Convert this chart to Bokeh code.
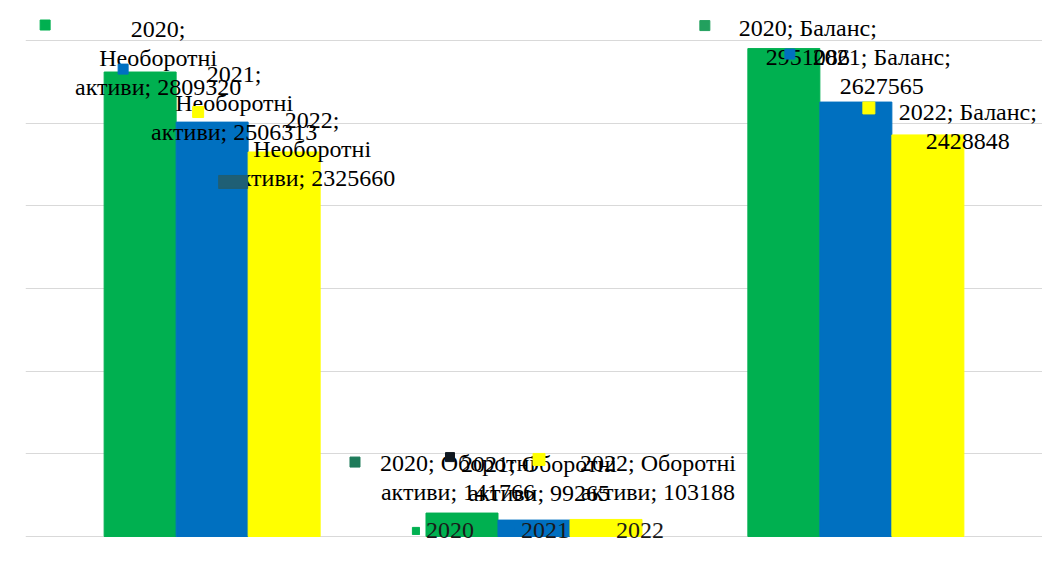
from bokeh.plotting import figure
from bokeh.models import ColumnDataSource, FactorRange, FixedTicker, Range1d, Legend, LegendItem
from bokeh.core.properties import value
from bokeh.embed import file_html
from bokeh.resources import INLINE

# ---- data ----
categories = ["Необоротні активи", "Оборотні активи", "Баланс"]
years = ["2020", "2021", "2022"]
v2020 = [2809320, 141766, 2951086]
v2021 = [2506313, 99265, 2627565]
v2022 = [2325660, 103188, 2428848]
series = {"2020": v2020, "2021": v2021, "2022": v2022}
colors = {"2020": "#00B050", "2021": "#0070C0", "2022": "#FFFF00"}
grid_ticks = [0, 500000, 1000000, 1500000, 2000000, 2500000, 3000000]

# ---- layout constants ----
W, H_FRAME, TOP = 1042, 548, 8
Y0, Y1 = -120968, 3193548
UPP = (Y1 - Y0) / H_FRAME     # data units per pixel
XPX = 72.0                    # pixels per factor unit
FONT_NAME = "'Liberation Serif', 'Times New Roman', Times, serif"
FONT = value(FONT_NAME)

factors = [(c, y) for c in categories for y in years]
p = figure(x_range=FactorRange(*factors, group_padding=1.47, range_padding=1.092,
                               range_padding_units="absolute"),
           y_range=Range1d(Y0, Y1), width=W, height=H_FRAME + TOP,
           output_backend="svg", toolbar_location=None,
           min_border_left=25, min_border_right=0, min_border_top=TOP, min_border_bottom=0)
p.outline_line_color = None
p.xaxis.visible = False
p.yaxis.visible = False
p.xgrid.grid_line_color = None
p.ygrid.ticker = FixedTicker(ticks=grid_ticks)
p.ygrid.grid_line_color = "#d9d9d9"
p.ygrid.grid_line_width = 1

renderers = {}
for yr in years:
    src = ColumnDataSource(dict(x=[(c, yr) for c in categories], top=series[yr]))
    r = p.vbar(x="x", top="top", bottom=0, width=1.0, source=src,
               fill_color=colors[yr], line_color=colors[yr])
    renderers[yr] = r

# ---- data labels ----
def wrap(cat, yr, val):
    if cat == "Необоротні активи":
        return f"{yr};\nНеоборотні\nактиви; {val}"
    if cat == "Оборотні активи":
        return f"{yr}; Оборотні\nактиви; {val}"
    return f"{yr}; Баланс;\n{val}"

label_offsets = {
    ("Необоротні активи", "2020"): (18, -14),
    ("Необоротні активи", "2021"): (22, -19),
    ("Необоротні активи", "2022"): (28, -3),
    ("Оборотні активи", "2020"): (-4, -36),
    ("Оборотні активи", "2021"): (5, -42),
    ("Оборотні активи", "2022"): (52, -42),
    ("Баланс", "2020"): (24, -6),
    ("Баланс", "2021"): (26, -31),
    ("Баланс", "2022"): (40, -8),
}
lx, ly, lt, ldx, ldy = [], [], [], [], []
for i, c in enumerate(categories):
    for yr in years:
        v = series[yr][i]
        dx, dy = label_offsets[(c, yr)]
        lx.append((c, yr)); ly.append(v); lt.append(wrap(c, yr, v))
        ldx.append(dx); ldy.append(dy)
lsrc = ColumnDataSource(dict(x=lx, y=ly, text=lt, dx=ldx, dy=ldy))
p.text(x="x", y="y", text="text", x_offset="dx", y_offset="dy", source=lsrc,
       text_font=FONT, text_font_size="24px", text_align="center",
       text_baseline="middle", text_line_height=1.12, text_color="#000000")

# ---- label keys (small squares) ----
markers = [
    ("Необоротні активи", "2020", -95, -47, 10, 10, "#00B050"),
    ("Необоротні активи", "2021", -89, -53, 10, 10, "#0070C0"),
    ("Необоротні активи", "2022", -86, -40, 11, 11, "#FFFF00"),
    ("Необоротні активи", "2022", -51, 30, 29, 13, "#1F5F75"),
    ("Оборотні активи", "2020", -107, -51, 10, 10, "#1E7B5A"),
    ("Оборотні активи", "2021", -84, -63, 9, 9, "#101820"),
    ("Оборотні активи", "2022", -67, -60, 12, 12, "#FFFF00"),
    ("Баланс", "2020", -79, -23, 10, 10, "#22A05E"),
    ("Баланс", "2021", -66, -48, 10, 10, "#0070C0"),
    ("Баланс", "2022", -59, -27, 12, 12, "#FFFF00"),
]
mx, my, mw, mh, mc = [], [], [], [], []
for c, yr, dx, dy, w, h, col in markers:
    v = series[yr][categories.index(c)]
    mx.append((c, yr, dx / XPX)); my.append(v - dy * UPP)
    mw.append(w); mh.append(h); mc.append(col)
msrc = ColumnDataSource(dict(x=mx, y=my, w=mw, h=mh, c=mc))
p.rect(x="x", y="y", width="w", height="h", width_units="screen", height_units="screen",
       fill_color="c", line_color="c", source=msrc)

# ---- legend ----
legend = Legend(items=[LegendItem(label=yr, renderers=[renderers[yr]]) for yr in years],
                orientation="horizontal", location=(386, 12),
                label_text_font=FONT_NAME, label_text_font_size="24px",
                label_text_color="#1a1a1a",
                glyph_width=9, glyph_height=9, label_standoff=6, spacing=32,
                padding=0, margin=0, border_line_color=None,
                background_fill_alpha=0)
p.add_layout(legend, "center")

open("out.html", "w").write(file_html(p, INLINE))
